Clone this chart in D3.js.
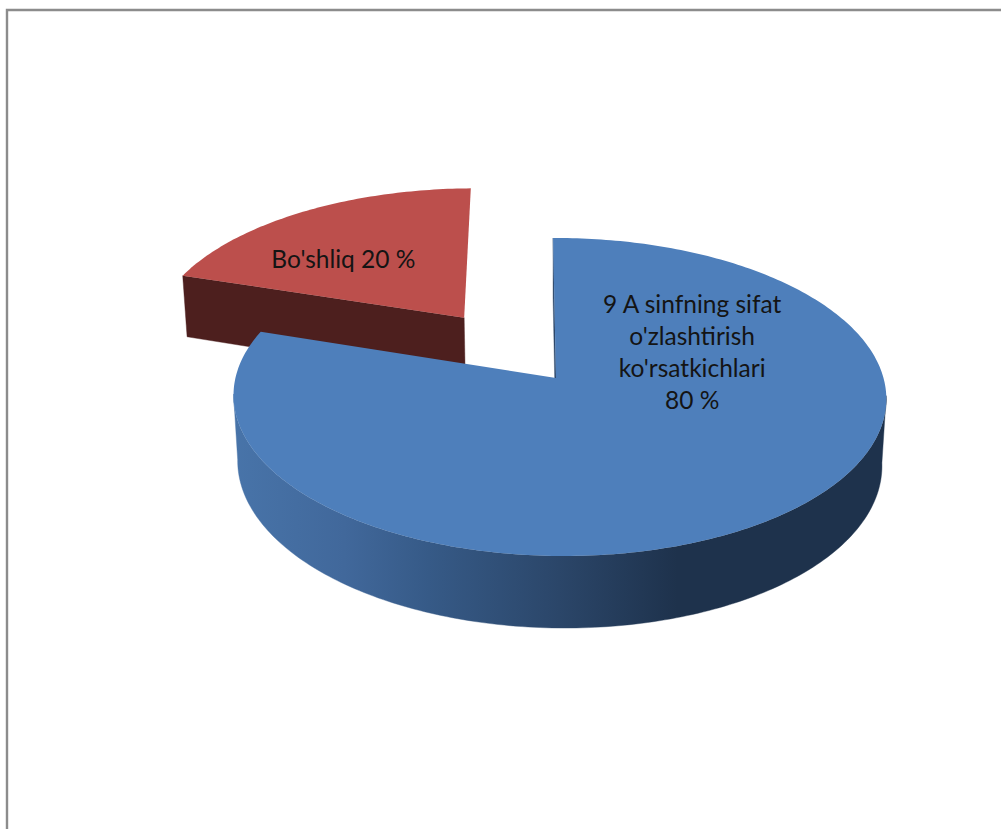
<!DOCTYPE html>
<html><head><meta charset="utf-8">
<style>html,body{margin:0;padding:0;background:#fff}svg{display:block}</style>
<script src="https://cdn.jsdelivr.net/npm/d3@7/dist/d3.min.js"></script>
</head><body><svg id="c" width="1001" height="829"></svg>
<script>
const categories = ["9 A sinfning sifat o'zlashtirish ko'rsatkichlari", "Bo'shliq"];
const values = [80, 20];
const labelLines = [["9 A sinfning sifat","o'zlashtirish","ko'rsatkichlari","80 %"],["Bo'shliq 20 %"]];
const explode = [0, 0.5];
const radii = [1, 1.015];
const topColors = ["#4e7fbb", "#bc4f4c"];

const W = 1001, H = 829;
const svg = d3.select("#c");
svg.append("rect").attr("width",W).attr("height",H).attr("fill","#fff");
svg.append("path").attr("d",d3.line()([[7,H],[7,10],[W,10]])).attr("fill","none").attr("stroke","#8c8c8c").attr("stroke-width",2.4);

// perspective projection of the pie plane (u,v in radius units, z = thickness 0..1)
const P = {x0:556,y0:378,A:324,B:156.7,H:66.7,S:-3.3,k:0.1195,j:-0.0107,m:0.013};
function proj(u,v,z){
  const w = 1 + P.k*v + P.j*u + P.m*z;
  return [P.x0 + (P.A*u + P.S*v)/w, P.y0 - (P.B*v - P.H*z)/w];
}
const line = d3.line();
const arcs = d3.pie().sort(null).value(d=>d)(values);

const defs = svg.append("defs");
const grad = defs.append("linearGradient").attr("id","wall").attr("gradientUnits","userSpaceOnUse")
  .attr("x1",233).attr("x2",886).attr("y1",0).attr("y2",0);
[[0,"#4874a9"],[0.17,"#41689b"],[0.3,"#365a87"],[0.5,"#2b4669"],[0.68,"#1e324c"],[1,"#1e324c"]]
  .forEach(s=>grad.append("stop").attr("offset",s[0]).attr("stop-color",s[1]));

const slices = arcs.map((a,i)=>{
  const mid=(a.startAngle+a.endAngle)/2, e=explode[i], r=radii[i];
  const cu=e*Math.sin(mid), cv=e*Math.cos(mid);
  const n=Math.ceil((a.endAngle-a.startAngle)*60);
  const angs=d3.range(n+1).map(t=>a.startAngle+(a.endAngle-a.startAngle)*t/n);
  const pt=(t,z)=>proj(cu+r*Math.sin(t),cv+r*Math.cos(t),z);
  const rim=z=>angs.map(t=>pt(t,z));
  const apex=z=>proj(cu,cv,z);
  const front=angs.filter(t=>Math.cos(t)<-0.1);
  return {i,a,pt,rim,apex,front};
});

function drawWalls(s,fill){
  const g=svg.append("g").attr("fill",fill).attr("stroke",fill).attr("stroke-width",0.4);
  if(s.front.length){
    const b0=s.front.map(t=>s.pt(t,0)), b1=s.front.map(t=>s.pt(t,1));
    g.append("path").attr("d",line([...b0,...b1.reverse()])+"Z");
  }
  // only the cut face at the slice's start angle can be seen from the camera
  const t0 = s.a.startAngle;
  g.append("path").attr("d",line([s.apex(0),s.pt(t0,0),s.pt(t0,1),s.apex(1)])+"Z");
}
function drawTop(s){
  svg.append("path").attr("d",line([s.apex(0),...s.rim(0)])+"Z").attr("fill",topColors[s.i]);
}
// far slice first
drawWalls(slices[1],"#4d1f1e");
drawTop(slices[1]);
drawWalls(slices[0],"url(#wall)");
drawTop(slices[0]);

const fontFam="Lato, Carlito, sans-serif";
const labelAnchor=[proj(0.428,0.16,0),proj(-0.718,0.833,0)];
labelLines.forEach((ls,i)=>{
  const t=svg.append("text").attr("text-anchor","middle").attr("font-family",fontFam)
    .attr("font-size",24.5).attr("fill","#141414");
  const lh=32, y0=labelAnchor[i][1]-(ls.length-1)*lh/2+8;
  ls.forEach((l,j)=>t.append("tspan").attr("x",labelAnchor[i][0]).attr("y",y0+j*lh).text(l));
});
</script></body></html>
